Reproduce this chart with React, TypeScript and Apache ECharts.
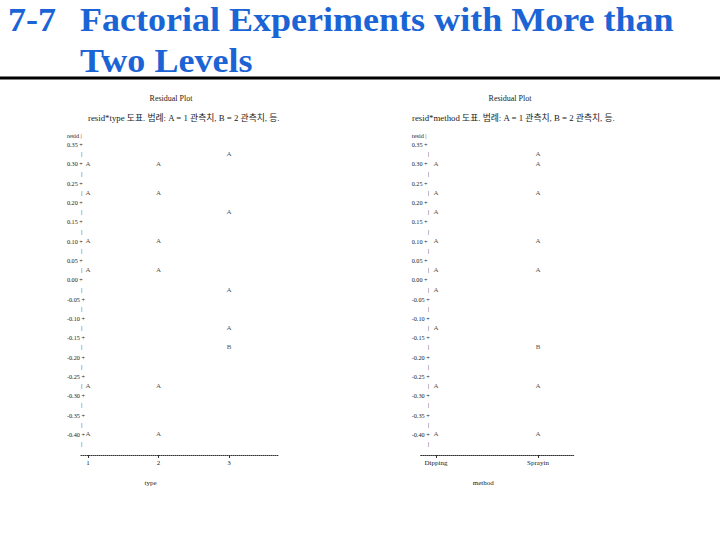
import React, { useEffect, useRef } from 'react';
import * as echarts from 'echarts';

// ---- data ----
const typeCategories = ['1', '2', '3'];
const type1Resid = [0.3, 0.225, 0.1, 0.025, -0.275, -0.4];
const type2Resid = [0.3, 0.225, 0.1, 0.025, -0.275, -0.4];
const type3Resid = [0.325, 0.175, -0.025, -0.125, -0.175, -0.175];

const methodCategories = ['Dipping', 'Sprayin'];
const dippingResid = [0.3, 0.225, 0.175, 0.1, 0.025, -0.025, -0.125, -0.275, -0.4];
const sprayingResid = [0.325, 0.3, 0.225, 0.1, 0.025, -0.175, -0.175, -0.275, -0.4];

const yMin = -0.425;
const yMax = 0.375;
const yStep = 0.025;

const FONT = "'Liberation Serif', 'Noto Sans CJK KR', serif";
const INK = '#222';

function countPoints(groups: number[][]) {
  const out: any[] = [];
  groups.forEach((g, i) => {
    const m = new Map<string, number>();
    g.forEach((v) => {
      const k = v.toFixed(3);
      m.set(k, (m.get(k) || 0) + 1);
    });
    m.forEach((c, k) => out.push({ value: [i + 1, parseFloat(k)], count: c }));
  });
  return out;
}

function yLabel(v: number) {
  const k = Math.round(v * 40);
  if (k === 15) return '{n|resid |}';
  if (k % 2 === 0) return '{n|' + (k / 40).toFixed(2) + ' +}';
  return '{b||}';
}

function makeYAxis(gridIndex: number, margin: number, barPad: number) {
  return {
    gridIndex,
    type: 'value',
    min: yMin,
    max: yMax,
    interval: yStep,
    axisLine: { show: false, onZero: false },
    axisTick: { show: false },
    splitLine: { show: false },
    axisLabel: {
      align: 'left',
      margin,
      formatter: yLabel,
      fontSize: 6.2,
      fontFamily: FONT,
      color: INK,
      rich: {
        n: { fontSize: 6.2, fontFamily: FONT, color: INK },
        b: { fontSize: 7, fontFamily: FONT, color: INK, padding: [0, 0, 0, barPad] },
      },
    },
  };
}

function makeXAxis(
  gridIndex: number,
  min: number,
  max: number,
  cats: string[],
  name: string,
  nameShift: number
) {
  const vals = cats.map((_, i) => i + 1);
  return {
    gridIndex,
    type: 'value',
    min,
    max,
    offset: 11,
    axisLine: { onZero: false, lineStyle: { type: 'dotted', color: '#333', width: 1 } },
    axisTick: { show: true, length: 3, customValues: vals, lineStyle: { color: '#333' } },
    axisLabel: {
      customValues: vals,
      formatter: (v: number) => cats[Math.round(v) - 1] ?? '',
      margin: 4,
      fontSize: 7,
      fontFamily: FONT,
      color: INK,
    },
    splitLine: { show: false },
    name,
    nameLocation: 'middle',
    nameGap: 24,
    nameTextStyle: { fontSize: 7, fontFamily: FONT, color: INK, padding: [0, nameShift, 0, 0] },
  };
}

function makeSeries(idx: number, groups: number[][]) {
  return {
    type: 'scatter',
    xAxisIndex: idx,
    yAxisIndex: idx,
    symbolSize: 1,
    itemStyle: { color: 'rgba(0,0,0,0)' },
    silent: true,
    data: countPoints(groups),
    label: {
      show: true,
      position: 'inside',
      formatter: (p: any) => String.fromCharCode(64 + p.data.count),
      fontSize: 7,
      fontFamily: FONT,
      color: INK,
    },
  };
}

export default function App() {
  const ref = useRef<HTMLDivElement>(null);
  useEffect(() => {
    if (!ref.current) return;
    const chart = echarts.init(ref.current, undefined, { renderer: 'svg' });
    const titleStyle = { fontFamily: "'Liberation Serif', serif", fontWeight: 'bold', fontSize: 34, fill: '#1a64d6', verticalAlign: 'middle' };
    const small = { fontFamily: FONT, fontSize: 7, fill: INK };
    chart.setOption({
      animation: false,
      backgroundColor: '#fff',
      graphic: [
        { type: 'text', x: 8, y: 20, scaleX: 1.06, style: { ...titleStyle, text: '7-7' } },
        { type: 'text', x: 80, y: 20, scaleX: 1.06, style: { ...titleStyle, text: 'Factorial Experiments with More than' } },
        { type: 'text', x: 80, y: 61, scaleX: 1.06, style: { ...titleStyle, text: 'Two Levels' } },
        { type: 'line', shape: { x1: 0, y1: 78, x2: 720, y2: 78 }, style: { stroke: '#000', lineWidth: 3 } },
        { type: 'text', x: 171, y: 98, style: { ...small, fontSize: 8, text: 'Residual Plot', align: 'center', verticalAlign: 'middle' } },
        { type: 'text', x: 510, y: 98, style: { ...small, fontSize: 8, text: 'Residual Plot', align: 'center', verticalAlign: 'middle' } },
        { type: 'text', x: 88, y: 118, style: { ...small, fontSize: 8.8, text: 'resid*type 도표. 범례: A = 1 관측치, B = 2 관측치, 등.', align: 'left', verticalAlign: 'middle' } },
        { type: 'text', x: 412, y: 118, style: { ...small, fontSize: 8.8, text: 'resid*method 도표. 범례: A = 1 관측치, B = 2 관측치, 등.', align: 'left', verticalAlign: 'middle' } },
      ],
      grid: [
        { left: 80.95, top: 135, width: 197.4, height: 309 },
        { left: 420.7, top: 135, width: 153, height: 309 },
      ],
      xAxis: [
        makeXAxis(0, 0.9, 3.7, typeCategories, 'type', 58),
        makeXAxis(1, 0.85, 2.35, methodCategories, 'method', 28),
      ],
      yAxis: [makeYAxis(0, 14, 14), makeYAxis(1, 9, 16)],
      series: [
        makeSeries(0, [type1Resid, type2Resid, type3Resid]),
        makeSeries(1, [dippingResid, sprayingResid]),
      ],
    });
    return () => chart.dispose();
  }, []);
  return (
    <div
      ref={ref}
      style={{ position: 'absolute', left: 0, top: 0, width: 720, height: 540, background: '#fff' }}
    />
  );
}
